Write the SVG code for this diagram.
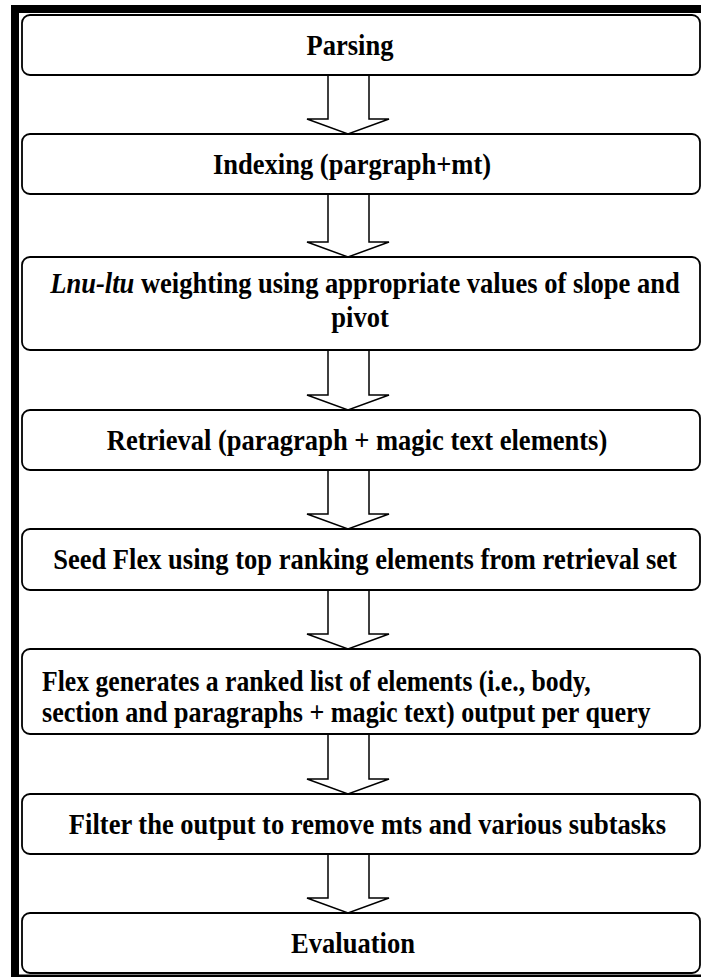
<svg xmlns="http://www.w3.org/2000/svg" width="701" height="977" viewBox="0 0 701 977">
<style>
.box{fill:#fff;stroke:#000;stroke-width:1.8}
.arr{fill:#fff;stroke:#000;stroke-width:1.5;stroke-linejoin:miter}
.t{font-family:"Liberation Serif","Times New Roman",serif;font-weight:bold;font-size:29px;fill:#000;text-anchor:middle}
.ts{font-family:"Liberation Serif","Times New Roman",serif;font-weight:bold;font-size:29px;fill:#000;text-anchor:start}
.frame{fill:#000}
</style>
<rect width="701" height="977" fill="#fff"/>
<g id="frame">
<rect class="frame" x="11" y="5" width="690" height="8"/>
<rect class="frame" x="11" y="5" width="8" height="972"/>
<rect class="frame" x="11" y="974.5" width="690" height="2.5"/>
</g>
<g id="connectors">
<path class="arr" d="M328,75 V119 H307 L348,134 L389,119 H369 V75"/>
<path class="arr" d="M328,194 V242 H307 L348,257 L389,242 H369 V194"/>
<path class="arr" d="M328,350 V395 H307 L348,410 L389,395 H369 V350"/>
<path class="arr" d="M328,470 V514 H307 L348,529 L389,514 H369 V470"/>
<path class="arr" d="M328,590 V634 H307 L348,649 L389,634 H369 V590"/>
<path class="arr" d="M328,734 V779 H307 L348,794 L389,779 H369 V734"/>
<path class="arr" d="M328,854 V898 H307 L348,913 L389,898 H369 V854"/>
</g>
<g id="n1"><rect class="box" x="22" y="15" width="678" height="60" rx="8"/><text class="t" transform="translate(350,55) scale(0.915,1)">Parsing</text></g>
<g id="n2"><rect class="box" x="22" y="134" width="678" height="60" rx="8"/><text class="t" transform="translate(352,174) scale(0.915,1)">Indexing (pargraph+mt)</text></g>
<g id="n3"><rect class="box" x="22" y="257" width="678" height="93" rx="8"/><text class="t" transform="translate(365,293) scale(0.915,1)"><tspan font-style="italic">Lnu-ltu</tspan> weighting using appropriate values of slope and</text><text class="t" transform="translate(360,327) scale(0.915,1)">pivot</text></g>
<g id="n4"><rect class="box" x="22" y="410" width="678" height="60" rx="8"/><text class="t" transform="translate(357,450) scale(0.915,1)">Retrieval (paragraph + magic text elements)</text></g>
<g id="n5"><rect class="box" x="22" y="529" width="678" height="61" rx="8"/><text class="t" transform="translate(365,569) scale(0.915,1)">Seed Flex using top ranking elements from retrieval set</text></g>
<g id="n6"><rect class="box" x="22" y="649" width="678" height="85" rx="8"/><text class="ts" transform="translate(42,691) scale(0.885,1)">Flex generates a ranked list of elements (i.e., body,</text><text class="ts" transform="translate(42,722) scale(0.9,1)">section and paragraphs + magic text) output per query</text></g>
<g id="n7"><rect class="box" x="22" y="794" width="678" height="60" rx="8"/><text class="t" transform="translate(367.5,834) scale(0.915,1)">Filter the output to remove mts and various subtasks</text></g>
<g id="n8"><rect class="box" x="22" y="913" width="678" height="60" rx="8"/><text class="t" transform="translate(353,953) scale(0.915,1)">Evaluation</text></g>
</svg>
